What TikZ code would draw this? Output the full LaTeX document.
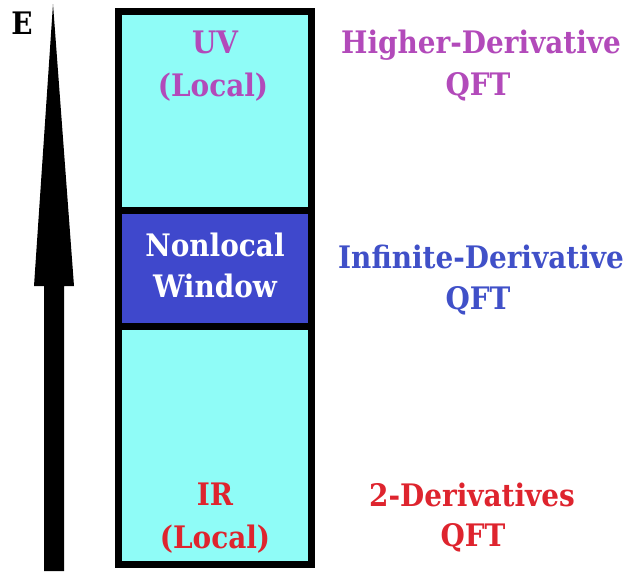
\documentclass[tikz,border=0pt]{standalone}
\usepackage{fontspec}
\setmainfont{DejaVu Serif Condensed}
\definecolor{cyanfill}{RGB}{143,252,247}
\definecolor{winblue}{RGB}{63,72,204}
\definecolor{uvcol}{RGB}{178,74,186}
\definecolor{midcol}{RGB}{64,80,200}
\definecolor{ircol}{RGB}{222,36,46}
\tikzset{
  lbl/.style={anchor=base, inner sep=0pt, font=\fontsize{31}{38}\selectfont\bfseries},
  region/.style={draw=black, line width=7pt},
}
\begin{document}
\begin{tikzpicture}[x=1pt,y=-1pt]
\useasboundingbox (0,0) rectangle (631,571);
% energy arrow
\coordinate (tip) at (53,4);
\fill (tip) -- (74,286) -- (64,286) -- (64,571) -- (44,571) -- (44,286) -- (34,286) -- cycle;
\node[lbl] (E) at (22,34) {E};
% column
\path[region, fill=cyanfill] (118.5,11) rectangle (311.5,564.5);
\node[region, fill=winblue, minimum width=193pt, minimum height=116.5pt, inner sep=0pt] (win) at (215,268.25) {};
% box labels
\node[lbl, text=uvcol] (uv1) at (215,53.5) {UV};
\node[lbl, text=uvcol] (uv2) at (213,96) {(Local)};
\node[lbl, text=white] (nl1) at (215,256) {Nonlocal};
\node[lbl, text=white] (nl2) at (215,297) {Window};
\node[lbl, text=ircol] (ir1) at (215,505) {IR};
\node[lbl, text=ircol] (ir2) at (215,548) {(Local)};
% right labels
\node[lbl, text=uvcol] (hd1) at (481,53) {Higher-Derivative};
\node[lbl, text=uvcol] (hd2) at (478,95) {QFT};
\node[lbl, text=midcol] (id1) at (481,268) {Infinite-Derivative};
\node[lbl, text=midcol] (id2) at (478,309) {QFT};
\node[lbl, text=ircol] (td1) at (472,506) {2-Derivatives};
\node[lbl, text=ircol] (td2) at (473,546) {QFT};
\end{tikzpicture}
\end{document}
